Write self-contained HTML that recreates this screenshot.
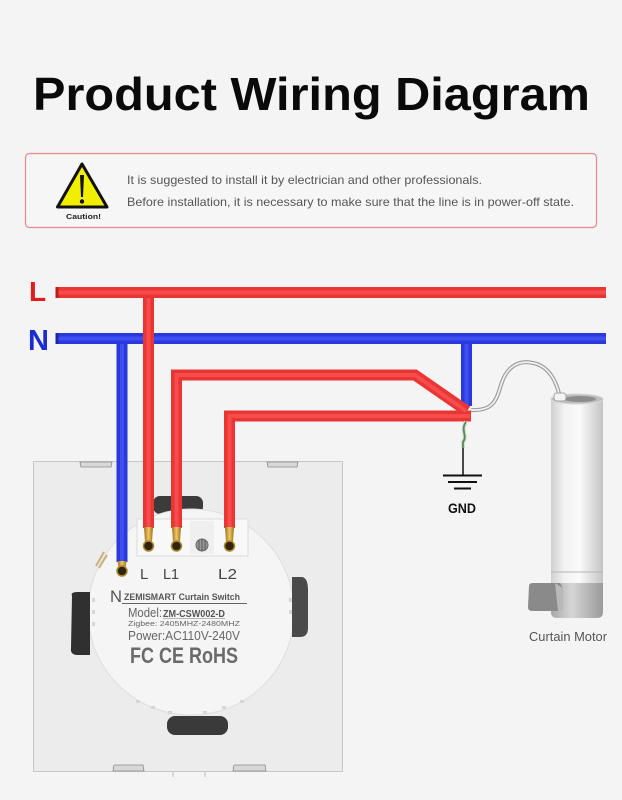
<!DOCTYPE html>
<html>
<head>
<meta charset="utf-8">
<style>
html,body{margin:0;padding:0;background:#f4f4f4;}
svg{display:block;}
text{font-family:"Liberation Sans",sans-serif;}
</style>
</head>
<body>
<svg width="622" height="800" viewBox="0 0 622 800" xmlns="http://www.w3.org/2000/svg">
<defs>
  <linearGradient id="motorBody" x1="0" y1="0" x2="1" y2="0">
    <stop offset="0" stop-color="#cfcfcf"/>
    <stop offset="0.25" stop-color="#f2f2f2"/>
    <stop offset="0.55" stop-color="#fafafa"/>
    <stop offset="1" stop-color="#c4c4c4"/>
  </linearGradient>
  <linearGradient id="motorBase" x1="0" y1="0" x2="1" y2="0">
    <stop offset="0" stop-color="#a8a8a8"/>
    <stop offset="0.4" stop-color="#d6d6d6"/>
    <stop offset="1" stop-color="#9a9a9a"/>
  </linearGradient>
  <linearGradient id="gold" x1="0" y1="0" x2="1" y2="0">
    <stop offset="0" stop-color="#9a6f1c"/>
    <stop offset="0.5" stop-color="#f0c860"/>
    <stop offset="1" stop-color="#9a6f1c"/>
  </linearGradient>
</defs>

<rect width="622" height="800" fill="#f4f4f4"/>

<!-- Title -->
<text x="33" y="110" font-size="46" font-weight="bold" fill="#0a0a0a" textLength="557" lengthAdjust="spacingAndGlyphs">Product Wiring Diagram</text>

<!-- Caution box -->
<rect x="25.5" y="153.5" width="571" height="74" rx="4" fill="#f6f6f6" stroke="#e48a8a" stroke-width="1.2"/>
<polygon points="82,164 57.5,207 107,207" fill="#f2ee00" stroke="#111" stroke-width="3" stroke-linejoin="round"/>
<path d="M80,175 L84,175 L83,197 L81,197 Z" fill="#111"/>
<circle cx="82" cy="201.5" r="2.2" fill="#111"/>
<text x="66" y="219" font-size="7.5" font-weight="bold" fill="#222" textLength="35" lengthAdjust="spacingAndGlyphs">Caution!</text>
<text x="127" y="184" font-size="12" fill="#555" textLength="355" lengthAdjust="spacingAndGlyphs">It is suggested to install it by electrician and other professionals.</text>
<text x="127" y="206" font-size="12" fill="#555" textLength="447" lengthAdjust="spacingAndGlyphs">Before installation, it is necessary to make sure that the line is in power-off state.</text>

<!-- L / N labels -->
<text x="29" y="301" font-size="28" font-weight="bold" fill="#e21c1c">L</text>
<text x="28" y="350" font-size="29" font-weight="bold" fill="#1c2bd2">N</text>

<!-- Switch plate -->
<rect x="33.5" y="461.5" width="309" height="310" fill="#ececec" stroke="#c6c6c6" stroke-width="1"/>
<g fill="#d8d8d8" stroke="#8a8a8a" stroke-width="0.8">
  <path d="M80,462 L112,462 L111,467 L81,467 Z"/>
  <path d="M267,462 L298,462 L297,467 L268,467 Z"/>
  <path d="M113,771 L114,765 L143,765 L144,771 Z"/>
  <path d="M233,771 L234,765 L265,765 L266,771 Z"/>
</g>
<line x1="173" y1="772" x2="173" y2="777" stroke="#bbb" stroke-width="1"/>
<line x1="205" y1="772" x2="205" y2="777" stroke="#bbb" stroke-width="1"/>

<!-- top slot (behind module) -->
<rect x="153" y="496" width="50" height="18" rx="7" fill="#3b3b3b"/>

<!-- Module -->
<circle cx="191" cy="612" r="103" fill="#f5f5f5" stroke="#dedede" stroke-width="1"/>
<!-- teeth marks -->
<g fill="#d6d6d6">
  <rect x="136" y="700" width="4" height="3"/>
  <rect x="151" y="706" width="4" height="3"/>
  <rect x="168" y="711" width="4" height="3"/>
  <rect x="203" y="711" width="4" height="3"/>
  <rect x="222" y="706" width="4" height="3"/>
  <rect x="240" y="700" width="4" height="3"/>
  <rect x="92" y="598" width="3" height="4"/>
  <rect x="92" y="610" width="3" height="4"/>
  <rect x="92" y="622" width="3" height="4"/>
  <rect x="289" y="598" width="3" height="4"/>
  <rect x="289" y="610" width="3" height="4"/>
</g>
<!-- side/bottom slots -->
<path d="M72,596 Q70,592 78,592 L90,592 L90,655 L78,655 Q70,655 71,648 Z" fill="#303030"/>
<path d="M292,577 L302,577 Q308,578 308,590 L308,628 Q308,637 300,637 L292,637 Z" fill="#4a4a4a"/>
<rect x="167" y="716" width="61" height="19" rx="8" fill="#3a3a3a"/>

<!-- small bracket detail -->
<path d="M96,566 L104,552 M99,568 L107,555" stroke="#c9b27a" stroke-width="2"/>

<!-- Terminal block -->
<rect x="137" y="519" width="111" height="37" fill="#f8f8f8" stroke="#dcdcdc" stroke-width="1"/>
<rect x="190" y="521" width="24" height="33" fill="#efefef"/>

<!-- Module text -->
<text x="140" y="579" font-size="15" fill="#444">L</text>
<text x="163" y="579" font-size="15" fill="#444" textLength="16" lengthAdjust="spacingAndGlyphs">L1</text>
<text x="218" y="579" font-size="15" fill="#444" textLength="19" lengthAdjust="spacingAndGlyphs">L2</text>
<text x="110" y="602" font-size="17" fill="#555" textLength="12" lengthAdjust="spacingAndGlyphs">N</text>
<text x="124" y="600" font-size="9.5" font-weight="bold" fill="#555" textLength="116" lengthAdjust="spacingAndGlyphs">ZEMISMART Curtain Switch</text>
<line x1="122" y1="603.5" x2="247" y2="603.5" stroke="#666" stroke-width="1"/>
<text x="128" y="617" font-size="12.5" fill="#666" textLength="34" lengthAdjust="spacingAndGlyphs">Model:</text>
<text x="163" y="617" font-size="10.5" font-weight="bold" fill="#555" textLength="62" lengthAdjust="spacingAndGlyphs">ZM-CSW002-D</text>
<line x1="163" y1="618.5" x2="225" y2="618.5" stroke="#777" stroke-width="0.6"/>
<text x="128" y="626" font-size="7.5" fill="#666" textLength="112" lengthAdjust="spacingAndGlyphs">Zigbee: 2405MHZ-2480MHZ</text>
<text x="128" y="640" font-size="13" fill="#666" textLength="112" lengthAdjust="spacingAndGlyphs">Power:AC110V-240V</text>
<text x="130" y="663" font-size="22" font-weight="bold" fill="#6a6a6a" textLength="108" lengthAdjust="spacingAndGlyphs">FC CE RoHS</text>

<!-- Wires: blue -->
<g fill="none" stroke-linejoin="miter" stroke-linecap="butt">
  <g stroke="#2a39de" stroke-width="11">
    <path d="M57,338.5 L606,338.5"/>
    <path d="M122,338.5 L122,562"/>
    <path d="M466.5,338.5 L466.5,406"/>
  </g>
  <g stroke="#3e4ff0" stroke-width="4">
    <path d="M58,338.5 L606,338.5"/>
    <path d="M122,344 L122,562"/>
    <path d="M466.5,344 L466.5,405"/>
  </g>
  <!-- red -->
  <g stroke="#ea3535" stroke-width="11">
    <path d="M57,292.5 L606,292.5"/>
    <path d="M148.5,292.5 L148.5,528"/>
    <path d="M176.5,528 L176.5,375 L415,375 L467,411"/>
    <path d="M229.5,528 L229.5,416 L471,416"/>
  </g>
  <g stroke="#f64c4c" stroke-width="4">
    <path d="M58,292.5 L606,292.5"/>
    <path d="M148.5,298 L148.5,528"/>
    <path d="M176.5,528 L176.5,375 L415,375 L466,411"/>
    <path d="M229.5,528 L229.5,416 L470,416"/>
  </g>
  <path d="M57,287 L57,298" stroke="#b82020" stroke-width="3"/>
  <path d="M57,333 L57,344" stroke="#1a28a8" stroke-width="3"/>
</g>

<!-- Ferrules and screws -->
<g>
  <path d="M144,527 L153,527 L152,542 L145,542 Z" fill="url(#gold)"/>
  <circle cx="148.5" cy="546" r="5" fill="#2f2410" stroke="#b08a30" stroke-width="1.5"/>
  <path d="M172,527 L181,527 L180,542 L173,542 Z" fill="url(#gold)"/>
  <circle cx="176.5" cy="546" r="5" fill="#2f2410" stroke="#b08a30" stroke-width="1.5"/>
  <path d="M225,527 L234,527 L233,542 L226,542 Z" fill="url(#gold)"/>
  <circle cx="229.5" cy="546" r="5" fill="#2f2410" stroke="#b08a30" stroke-width="1.5"/>
  <circle cx="202" cy="545" r="6" fill="#9a9a9a" stroke="#666" stroke-width="1"/>
  <line x1="199" y1="540" x2="199" y2="550" stroke="#555" stroke-width="1"/>
  <line x1="202" y1="539" x2="202" y2="551" stroke="#555" stroke-width="1"/>
  <line x1="205" y1="540" x2="205" y2="550" stroke="#555" stroke-width="1"/>
  <path d="M117.5,561 L126.5,561 L125.5,568 L118.5,568 Z" fill="url(#gold)"/>
  <circle cx="122" cy="571" r="5" fill="#2f2410" stroke="#b08a30" stroke-width="1.5"/>
</g>

<!-- GND -->
<path d="M466,422 C 460,430 468,436 463,442 L463,448" fill="none" stroke="#cfe0cf" stroke-width="4"/>
<path d="M466,422 C 460,430 468,436 463,442 L463,448" fill="none" stroke="#5f845f" stroke-width="1.8"/>
<line x1="463" y1="448" x2="463" y2="475" stroke="#111" stroke-width="1.5"/>
<line x1="443" y1="475.5" x2="482" y2="475.5" stroke="#111" stroke-width="2"/>
<line x1="448" y1="482" x2="477" y2="482" stroke="#111" stroke-width="2"/>
<line x1="454" y1="488.5" x2="471" y2="488.5" stroke="#111" stroke-width="2"/>
<text x="448" y="513" font-size="14" font-weight="bold" fill="#111" textLength="28" lengthAdjust="spacingAndGlyphs">GND</text>

<!-- Cable to motor -->
<path d="M471,410 C 492,411 496,402 501,385 C 507,365 520,360 533,363 C 549,366 557,382 560,398" fill="none" stroke="#9a9a9a" stroke-width="4"/>
<path d="M471,410 C 492,411 496,402 501,385 C 507,365 520,360 533,363 C 549,366 557,382 560,398" fill="none" stroke="#f0f0f0" stroke-width="1.8"/>

<!-- Motor -->
<rect x="551" y="398" width="52" height="186" fill="url(#motorBody)"/>
<ellipse cx="577" cy="399" rx="26" ry="5" fill="#bdbdbd" stroke="#d8d8d8" stroke-width="1"/>
<ellipse cx="580" cy="399" rx="16" ry="3" fill="#8c8c8c"/>
<rect x="554" y="393" width="12" height="8" rx="3" fill="#f4f4f4" stroke="#a5a5a5" stroke-width="1"/>
<line x1="551" y1="572" x2="603" y2="572" stroke="#b5b5b5" stroke-width="1"/>
<path d="M551,583 L603,583 L603,612 Q603,618 597,618 L557,618 Q551,618 551,612 Z" fill="url(#motorBase)"/>
<path d="M529,586 Q529,583 533,583 L560,583 L563,588 L563,611 L532,611 Q528,611 528,607 Z" fill="#8a8a8a"/>
<path d="M555,583 L563,588 L563,611 L558,611 Z" fill="#b8b8b8"/>
<text x="529" y="641" font-size="12.5" fill="#555" textLength="78" lengthAdjust="spacingAndGlyphs">Curtain Motor</text>
</svg>
</body>
</html>
